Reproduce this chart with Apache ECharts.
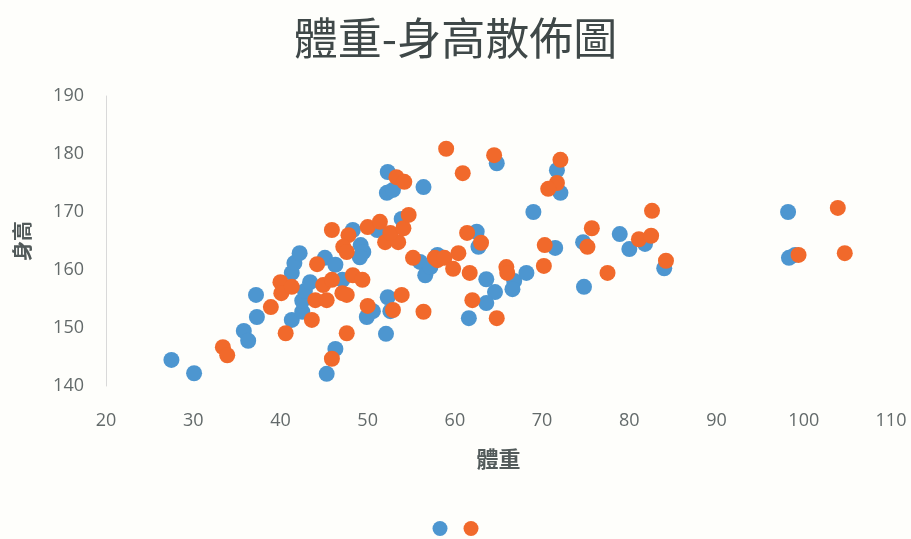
<!DOCTYPE html>
<html>
<head>
<meta charset="utf-8">
<title>體重-身高散佈圖</title>
<script src="https://cdn.jsdelivr.net/npm/echarts@6/dist/echarts.min.js"></script>
<style>
  html, body { margin: 0; padding: 0; background: #fefefb; }
  #chart { width: 911px; height: 539px; }
</style>
</head>
<body>
<div id="chart"></div>
<script>
// Axis ranges and tick settings
const xTicks = { min: 20, max: 110, step: 10 };
const yTicks = { min: 140, max: 190, step: 10 };

// Series 1 (blue): [weight kg, height cm]
const seriesA = [
  [27.5, 144.5], [30.1, 142.2], [35.8, 149.5], [36.3, 147.8], [37.2, 155.7],
  [37.3, 151.9], [41.3, 159.5], [41.6, 161.2], [42.2, 162.9], [41.3, 151.4],
  [42.5, 152.8], [42.5, 154.7], [42.8, 156.4], [43.4, 157.9], [45.1, 162.1],
  [46.3, 160.9], [47.1, 158.3], [48.3, 166.9], [49.2, 164.3], [49.5, 163.1],
  [49.1, 162.2], [49.9, 151.9], [50.6, 152.9], [52.3, 155.3], [52.6, 152.9],
  [52.1, 149.0], [46.3, 146.4], [45.3, 142.1], [51.1, 166.9], [53.9, 168.8],
  [52.3, 176.9], [52.2, 173.3], [52.9, 173.8], [56.4, 174.3], [56.0, 161.4],
  [56.6, 159.1], [64.8, 178.4], [71.7, 177.2], [72.1, 173.3], [69.0, 170.0],
  [62.5, 166.6], [62.7, 164.0], [71.5, 163.8], [74.7, 164.8], [74.8, 157.1],
  [58.0, 162.6], [57.2, 160.5], [63.6, 158.4], [66.8, 158.1], [66.6, 156.7],
  [68.2, 159.5], [64.6, 156.2], [63.6, 154.3], [61.6, 151.7], [78.9, 166.2],
  [80.0, 163.6], [81.8, 164.5], [84.0, 160.3], [98.2, 170.0], [98.3, 162.1],
  [99.0, 162.6]
];

// Series 2 (orange): [weight kg, height cm]
const seriesB = [
  [33.4, 146.7], [33.9, 145.3], [38.9, 153.6], [40.0, 157.9], [40.1, 156.0],
  [41.3, 157.1], [40.6, 149.1], [44.2, 161.0], [44.0, 154.8], [45.3, 154.8],
  [44.9, 157.4], [45.9, 158.3], [47.1, 156.0], [47.6, 155.7], [48.3, 159.1],
  [49.4, 158.3], [43.6, 151.4], [47.6, 149.1], [45.9, 144.7], [50.0, 153.8],
  [52.9, 153.1], [53.9, 155.7], [56.4, 152.8], [45.9, 166.9], [47.8, 166.0],
  [47.2, 164.0], [47.6, 163.1], [50.0, 167.4], [51.4, 168.3], [52.0, 164.8],
  [53.5, 164.8], [52.6, 166.4], [54.1, 167.2], [54.7, 169.5], [53.3, 176.0],
  [54.2, 175.2], [55.2, 162.1], [57.7, 162.1], [59.0, 180.9], [64.5, 179.8],
  [60.9, 176.7], [72.1, 179.0], [71.7, 175.0], [70.7, 174.0], [61.4, 166.4],
  [63.0, 164.7], [70.3, 164.3], [75.2, 164.0], [75.7, 167.2], [58.0, 161.7],
  [58.8, 162.1], [60.4, 162.9], [59.8, 160.2], [61.7, 159.5], [65.9, 160.5],
  [66.0, 159.5], [70.2, 160.7], [62.0, 154.8], [64.8, 151.7], [82.6, 170.2],
  [81.1, 165.3], [82.5, 165.9], [84.2, 161.6], [77.5, 159.5], [103.9, 170.7],
  [99.4, 162.6], [104.7, 162.9]
];

const titleText = '體重-身高散佈圖';
const xName = '體重';
const yName = '身高';

const blue = '#4d96d0';
const orange = '#f1692b';
const labelColor = '#636a6a';
const cjk = '"Noto Sans CJK TC", "Noto Sans CJK SC", sans-serif';

const chart = echarts.init(document.getElementById('chart'), null, { renderer: 'canvas' });

chart.setOption({
  backgroundColor: '#fefefb',
  animation: false,
  title: {
    text: titleText,
    left: 'center',
    top: 11,
    textStyle: { fontFamily: cjk, fontSize: 44, fontWeight: 'normal', color: '#3f4848' }
  },
  legend: {
    bottom: 3,
    left: 'center',
    padding: 0,
    itemWidth: 15,
    itemHeight: 15,
    itemGap: 16,
    icon: 'circle',
    formatter: function () { return ''; },
    data: ['series1', 'series2']
  },
  grid: { left: 106, right: 20, top: 96, bottom: 153, containLabel: false },
  xAxis: {
    type: 'value',
    min: xTicks.min,
    max: xTicks.max,
    interval: xTicks.step,
    name: xName,
    nameLocation: 'middle',
    nameGap: 62,
    nameTextStyle: { fontFamily: cjk, fontSize: 22, fontWeight: 'bold', color: '#525a5a' },
    axisLine: { show: false },
    axisTick: { show: false },
    splitLine: { show: false },
    axisLabel: { margin: 26, fontSize: 18, color: labelColor, fontFamily: '"Open Sans", sans-serif' }
  },
  yAxis: {
    type: 'value',
    min: yTicks.min,
    max: yTicks.max,
    interval: yTicks.step,
    name: yName,
    nameLocation: 'middle',
    nameRotate: 90,
    nameGap: 74,
    nameTextStyle: { fontFamily: cjk, fontSize: 20, fontWeight: 'bold', color: '#525a5a' },
    axisLine: { show: true, lineStyle: { color: '#d9d9d9', width: 1 } },
    axisTick: { show: false },
    splitLine: { show: false },
    axisLabel: { margin: 22, fontSize: 18, color: labelColor, fontFamily: '"Open Sans", sans-serif' }
  },
  series: [
    {
      name: 'series1',
      type: 'scatter',
      symbol: 'circle',
      symbolSize: 16,
      itemStyle: { color: blue, opacity: 1 },
      data: seriesA
    },
    {
      name: 'series2',
      type: 'scatter',
      symbol: 'circle',
      symbolSize: 16,
      itemStyle: { color: orange, opacity: 1 },
      data: seriesB
    }
  ]
});
</script>
</body>
</html>
